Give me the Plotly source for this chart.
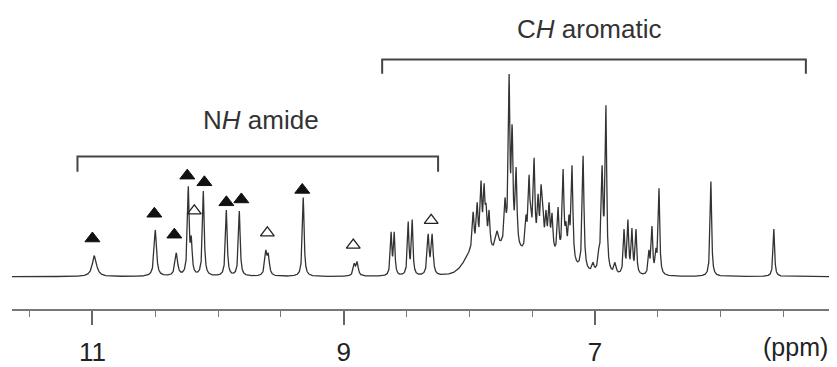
import numpy as np
import plotly.graph_objects as go

# ---- data (ppm, height in px above baseline, FWHM ppm) ----
peak_ppm = [10.984, 10.499, 10.332, 10.237, 10.213, 10.117, 9.934, 9.831, 9.620, 9.600,
            9.322, 8.916, 8.893, 8.623, 8.598, 8.487, 8.455, 8.328, 8.296,
            7.970, 7.938, 7.907, 7.883, 7.867, 7.843, 7.779, 7.740, 7.716, 7.700,
            7.684, 7.660, 7.628, 7.549, 7.525, 7.509, 7.485, 7.453, 7.429, 7.414,
            7.390, 7.366, 7.342, 7.294, 7.270, 7.254, 7.231, 7.207, 7.183, 7.095,
            7.016, 6.968, 6.944, 6.928, 6.913, 6.841, 6.769, 6.738, 6.706, 6.674,
            6.571, 6.547, 6.515, 6.491, 6.078, 5.577]
peak_height = [22, 49, 25, 95, 43, 90, 70, 69, 28, 25,
               83, 14, 16, 47, 47, 58, 60, 45, 45,
               68, 78, 101, 98, 77, 70, 48, 40, 83, 73,
               213, 160, 115, 65, 107, 70, 125, 87, 97, 72,
               70, 78, 67, 73, 43, 113, 58, 65, 117, 127,
               15, 33, 117, 65, 180, 15, 50, 60, 51, 50,
               28, 53, 30, 93, 100, 50]
peak_width = [0.040, 0.022, 0.024, 0.016, 0.016, 0.016, 0.016, 0.016, 0.020, 0.020,
              0.016, 0.020, 0.020, 0.014, 0.014, 0.014, 0.014, 0.018, 0.018,
              0.016, 0.016, 0.016, 0.016, 0.016, 0.016, 0.030, 0.030, 0.016, 0.016,
              0.014, 0.016, 0.016, 0.016, 0.016, 0.016, 0.016, 0.016, 0.016, 0.016,
              0.016, 0.016, 0.016, 0.016, 0.016, 0.016, 0.016, 0.016, 0.016, 0.016,
              0.020, 0.018, 0.016, 0.016, 0.014, 0.020, 0.014, 0.014, 0.014, 0.014,
              0.014, 0.014, 0.014, 0.014, 0.014, 0.014]

# broad background under the aromatic cluster (ppm, height, sigma ppm)
hump_ppm = [7.978, 7.756, 7.374]
hump_height = [14, 24, 18]
hump_sigma = [0.06, 0.18, 0.16]

# assignment markers (ppm, height)
filled_ppm = [11.0, 10.507, 10.348, 10.245, 10.109, 9.934, 9.815, 9.330]
filled_y = [40, 66, 44, 106, 99, 78, 81, 91]
open_ppm = [10.189, 9.608, 8.924, 8.304]
open_y = [69, 46, 33, 59]

tick_vals = [11, 9, 7]
tick_text = ["11", "9", "7"]
minor_vals = [11.5, 10.5, 10, 9.5, 8.5, 8, 7.5, 6.5, 6, 5.5]

# ---- build spectrum from the peak list ----
x = np.linspace(5.13, 11.64, 9000)
pp = np.array(peak_ppm)
ph = np.array(peak_height, float)
pw = np.array(peak_width)


def lor(xx, c, w):
    return 1.0 / (1.0 + ((xx - c) / (w / 2)) ** 2)


def bg(xx):
    s = np.zeros_like(xx, dtype=float)
    for c, h, sg in zip(hump_ppm, hump_height, hump_sigma):
        s += h * np.exp(-0.5 * ((xx - c) / sg) ** 2)
    return s


A = lor(pp[:, None], pp[None, :], pw[None, :])
target = ph - bg(pp)
amp = np.linalg.solve(A, target)
amp = np.clip(amp, 0, None)
for _ in range(5):
    resid = target - A @ amp
    amp = np.clip(amp + resid * 0.5, 0, None)

y = bg(x)
for c, w, a in zip(pp, pw, amp):
    y += a * lor(x, c, w)

fig = go.Figure()
fig.add_trace(go.Scatter(x=x, y=y, mode="lines",
                         line=dict(color="#333333", width=1.3),
                         hoverinfo="skip", showlegend=False))
fig.add_trace(go.Scatter(x=filled_ppm, y=filled_y, mode="markers",
                         marker=dict(symbol="triangle-up", size=13, color="#111111",
                                     line=dict(color="#111111", width=1)),
                         showlegend=False))
fig.add_trace(go.Scatter(x=open_ppm, y=open_y, mode="markers",
                         marker=dict(symbol="triangle-up-open", size=12, color="#222222",
                                     line=dict(width=1.3)),
                         showlegend=False))

bracket_color = "#444444"
fig.add_shape(type="path", xref="x", yref="y",
              path="M 11.119 110 L 11.119 126 L 8.249 126 L 8.249 110",
              line=dict(color=bracket_color, width=2))
fig.add_shape(type="path", xref="x", yref="y",
              path="M 8.694 213 L 8.694 228 L 5.322 228 L 5.322 213",
              line=dict(color=bracket_color, width=2))

font_family = "Liberation Sans, Arial, sans-serif"
fig.add_annotation(x=9.66, y=164, xref="x", yref="y", text="N<i>H</i> amide",
                   showarrow=False, font=dict(size=26, color="#333333", family=font_family),
                   xanchor="center", yanchor="middle")
fig.add_annotation(x=7.05, y=260, xref="x", yref="y", text="C<i>H</i> aromatic",
                   showarrow=False, font=dict(size=26, color="#333333", family=font_family),
                   xanchor="center", yanchor="middle")
fig.add_annotation(x=1.0, y=-0.125, xref="paper", yref="paper", text="(ppm)",
                   showarrow=False, font=dict(size=25, color="#222222", family=font_family),
                   xanchor="right", yanchor="middle")

# page has an 8px body margin: figure is 8px smaller and shifted accordingly
fig.update_layout(
    width=829, height=359,
    margin=dict(l=4, r=7, t=0, b=43),
    paper_bgcolor="white", plot_bgcolor="white",
    showlegend=False,
    font=dict(family=font_family),
    xaxis=dict(range=[11.64, 5.13], showgrid=False, zeroline=False,
               showline=True, linecolor="#777777", linewidth=2,
               ticks="outside", tickvals=tick_vals, ticktext=tick_text,
               ticklen=14, tickwidth=1.5, tickcolor="#666666",
               ticklabelstandoff=5,
               tickfont=dict(size=26, color="#222222", family=font_family),
               minor=dict(tickvals=minor_vals, ticks="outside", ticklen=6,
                          tickwidth=1.2, tickcolor="#777777")),
    yaxis=dict(range=[-34, 282], visible=False, showgrid=False, zeroline=False),
)

fig.write_html("out.html")
